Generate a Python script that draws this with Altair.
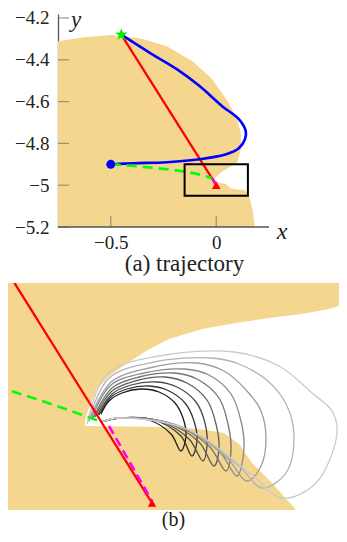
import altair as alt
import pandas as pd

ORANGE = "#F5D68F"
SERIF = "Liberation Serif"

# ---------------- panel (a): trajectory ----------------
# reachable region (orange), as horizontal band: y, left x, right x
region_y = [-4.282, -4.292, -4.297, -4.311, -4.335, -4.407, -4.493, -4.608, -4.684,
            -4.751, -4.828, -4.895, -4.909, -4.938, -4.967, -4.981, -4.990, -4.995,
            -5.014, -5.019, -5.022, -5.038, -5.062, -5.124, -5.163, -5.200]
region_xl = [-0.5, -0.626, -0.66, -0.75, -0.75, -0.75, -0.75, -0.75, -0.75,
             -0.75, -0.75, -0.75, -0.75, -0.75, -0.75, -0.75, -0.75, -0.75,
             -0.75, -0.75, -0.75, -0.75, -0.75, -0.75, -0.75, -0.75]
region_xr = [-0.5, -0.41, -0.36, -0.314, -0.234, -0.112, -0.019, 0.061, 0.098,
             0.117, 0.117, 0.098, 0.070, 0.023, -0.009, -0.005, 0.023, 0.047,
             0.065, 0.089, 0.131, 0.150, 0.159, 0.173, 0.178, 0.182]

blue_x = [-0.45, -0.313, -0.187, -0.079, 0.028, 0.107, 0.140, 0.136, 0.107, 0.047,
          -0.079, -0.234, -0.393, -0.5]
blue_y = [-4.28, -4.368, -4.445, -4.526, -4.622, -4.684, -4.742, -4.780, -4.823,
          -4.852, -4.876, -4.890, -4.895, -4.9]

green_x = [-0.5, -0.3, -0.15, -0.0576, -0.0212]
green_y = [-4.9, -4.917, -4.935, -4.9548, -4.9672]

red_x = [-0.45, 0.0]
red_y = [-4.28, -5.0]

magenta_x = [-0.0172, 0.0]
magenta_y = [-4.9692, -4.9992]

start_x, start_y = [-0.45], [-4.28]
init_x, init_y = [-0.5], [-4.9]
target_x, target_y = [0.0], [-5.0]

box_x = [-0.15, 0.15]
box_y = [-5.05, -4.9]

# axis frame of panel (a)
axis_x0, axis_x1 = -0.75, 0.25
axis_y0, axis_y1 = -5.2, -4.181
x_ticks = [-0.5, 0.0]
y_ticks = [-4.2, -4.4, -4.6, -4.8, -5.0, -5.2]

# ---------------- panel (b): zoom ----------------
white_y = [-4.9204, -4.9224, -4.9244, -4.9260, -4.9280, -4.9304, -4.9344, -4.9392,
           -4.9444, -4.9492, -4.9544, -4.9600, -4.9640, -4.9672, -4.9692, -4.9696,
           -4.9704, -4.9720, -4.9764, -4.9840, -4.9920, -5.0028]
white_xl = [0.0776, 0.0708, 0.0600, 0.0468, 0.0336, 0.0200, 0.0068, -0.0024,
            -0.0104, -0.0172, -0.0220, -0.0244, -0.0260, -0.0268, -0.0268, 0.0048,
            0.0188, 0.0288, 0.0348, 0.0400, 0.0480, 0.0576]
white_xr = [0.0776, 0.0776, 0.0776, 0.0776, 0.0776, 0.0776, 0.0776, 0.0776,
            0.0776, 0.0776, 0.0776, 0.0776, 0.0776, 0.0776, 0.0776, 0.0776,
            0.0776, 0.0776, 0.0776, 0.0776, 0.0776, 0.0776]

curves_x = [
    [-0.0204, -0.0132, -0.0012, 0.0076, 0.0116, 0.0136, 0.0124, 0.0092, 0.0028, -0.0044, -0.0120, -0.0172, -0.0204],
    [-0.0204, -0.0132, 0.0008, 0.0116, 0.0160, 0.0180, 0.0168, 0.0132, 0.0060, -0.0012, -0.0100, -0.0164, -0.0212],
    [-0.0204, -0.0132, 0.0028, 0.0148, 0.0204, 0.0220, 0.0212, 0.0176, 0.0100, 0.0020, -0.0084, -0.0160, -0.0220],
    [-0.0204, -0.0132, 0.0048, 0.0188, 0.0248, 0.0268, 0.0256, 0.0220, 0.0140, 0.0052, -0.0068, -0.0160, -0.0228],
    [-0.0204, -0.0132, 0.0068, 0.0228, 0.0296, 0.0316, 0.0304, 0.0268, 0.0180, 0.0088, -0.0052, -0.0160, -0.0236],
    [-0.0204, -0.0132, 0.0088, 0.0268, 0.0340, 0.0368, 0.0356, 0.0316, 0.0228, 0.0128, -0.0032, -0.0164, -0.0244],
    [-0.0204, -0.0132, 0.0108, 0.0300, 0.0380, 0.0436, 0.0456, 0.0436, 0.0380, 0.0288, 0.0180, -0.0012, -0.0164, -0.0252],
    [-0.0204, -0.0132, 0.0128, 0.0348, 0.0440, 0.0536, 0.0568, 0.0540, 0.0468, 0.0348, 0.0236, 0.0008, -0.0172, -0.0256],
    [-0.0204, -0.0132, 0.0148, 0.0396, 0.0520, 0.0656, 0.0740, 0.0720, 0.0640, 0.0508, 0.0328, 0.0028, -0.0180, -0.0260],
]
curves_y = [
    [-4.9676, -4.9660, -4.9668, -4.9724, -4.9792, -4.9732, -4.9660, -4.9600, -4.9556, -4.9544, -4.9560, -4.9592, -4.9644],
    [-4.9676, -4.9660, -4.9668, -4.9732, -4.9812, -4.9752, -4.9672, -4.9600, -4.9548, -4.9532, -4.9544, -4.9576, -4.9648],
    [-4.9676, -4.9660, -4.9672, -4.9744, -4.9832, -4.9772, -4.9680, -4.9596, -4.9536, -4.9516, -4.9528, -4.9564, -4.9652],
    [-4.9676, -4.9660, -4.9676, -4.9756, -4.9852, -4.9784, -4.9684, -4.9588, -4.9520, -4.9496, -4.9512, -4.9552, -4.9656],
    [-4.9676, -4.9660, -4.9680, -4.9772, -4.9872, -4.9792, -4.9684, -4.9580, -4.9504, -4.9480, -4.9496, -4.9540, -4.9660],
    [-4.9676, -4.9660, -4.9684, -4.9792, -4.9892, -4.9780, -4.9672, -4.9564, -4.9488, -4.9464, -4.9480, -4.9528, -4.9664],
    [-4.9676, -4.9660, -4.9692, -4.9820, -4.9912, -4.9852, -4.9744, -4.9632, -4.9552, -4.9472, -4.9440, -4.9460, -4.9516, -4.9672],
    [-4.9676, -4.9660, -4.9700, -4.9852, -4.9940, -4.9880, -4.9732, -4.9612, -4.9516, -4.9444, -4.9420, -4.9436, -4.9500, -4.9676],
    [-4.9676, -4.9660, -4.9708, -4.9884, -4.9980, -4.9920, -4.9720, -4.9632, -4.9560, -4.9452, -4.9396, -4.9412, -4.9484, -4.9684],
]
gray_levels = ["#1c1c1c", "#333333", "#4a4a4a", "#5e5e5e", "#737373",
               "#888888", "#9e9e9e", "#b4b4b4", "#cbcbcb"]

# ---------------- layout constants ----------------
PX_PER_UNIT = 211
LABEL_ROOM = 50                      # room left of the y axis for its labels
TOP_W, TOP_H = 261, 213
BOT_W, BOT_H = 331, 227
BOT_PX_PER_UNIT = 2500
XDOM_A = [axis_x1 - TOP_W / PX_PER_UNIT, axis_x1]
YDOM_A = [axis_y0, axis_y1]
XDOM_B = [-0.0576, -0.0576 + BOT_W / BOT_PX_PER_UNIT]
YDOM_B = [-5.0028, -5.0028 + BOT_H / BOT_PX_PER_UNIT]

STAR = ("M0,-1L0.235,-0.324L0.951,-0.309L0.38,0.124L0.588,0.809L0,0.4"
        "L-0.588,0.809L-0.38,0.124L-0.951,-0.309L-0.235,-0.324Z")

def frame(xs, ys, **extra):
    d = {"x": xs, "y": ys}
    d.update(extra)
    return pd.DataFrame(d).reset_index().rename(columns={"index": "i"})

label_expr = "replace(format(datum.value, '~g'), '-', '\u2212')"
axis_common = dict(title=None, grid=False, ticks=False, domainColor="#555555",
                   domainWidth=1.3, labelFont=SERIF, labelFontSize=19,
                   labelColor="#222222", labelExpr=label_expr)
ax_x = alt.Axis(values=x_ticks, labelPadding=6, domain=False, **axis_common)
ax_y = alt.Axis(values=y_ticks, labelPadding=9, offset=-LABEL_ROOM, **axis_common)

def XA():
    return alt.X("x:Q", scale=alt.Scale(domain=XDOM_A, nice=False, zero=False), axis=ax_x)

def YA():
    return alt.Y("y:Q", scale=alt.Scale(domain=YDOM_A, nice=False, zero=False), axis=ax_y)

def XB():
    return alt.X("x:Q", scale=alt.Scale(domain=XDOM_B, nice=False, zero=False), axis=None)

def YB():
    return alt.Y("y:Q", scale=alt.Scale(domain=YDOM_B, nice=False, zero=False), axis=None)

region_df = frame(region_xl, region_y, xr=region_xr)
blue_df = frame(blue_x, blue_y)
green_df = frame(green_x, green_y)
red_df = frame(red_x, red_y)
mag_df = frame(magenta_x, magenta_y)
start_df = frame(start_x, start_y)
init_df = frame(init_x, init_y)
target_df = frame(target_x, target_y)
box_df = pd.DataFrame({"x": [box_x[0]], "xr": [box_x[1]], "y": [box_y[0]], "yr": [box_y[1]]})
xt_df = pd.DataFrame({"x": x_ticks, "y": [axis_y0] * len(x_ticks)})
yt_df = pd.DataFrame({"y": y_ticks, "x": [axis_x0] * len(y_ticks)})
xline_df = pd.DataFrame({"x": [axis_x0], "xr": [axis_x1], "y": [axis_y0]})

def common_layers(X, Y, clip):
    red = alt.Chart(red_df).mark_line(color="#FF0000", strokeWidth=2.3, clip=clip).encode(
        x=X(), y=Y(), order="i:Q")
    green = alt.Chart(green_df).mark_line(color="#00FF00", strokeWidth=2.6, strokeDash=[10, 6],
                                          interpolate="monotone", clip=clip).encode(
        x=X(), y=Y(), order="i:Q")
    mag = alt.Chart(mag_df).mark_line(color="#FF00FF", strokeWidth=2.6, strokeDash=[9, 5],
                                      clip=clip).encode(x=X(), y=Y(), order="i:Q")
    tri = alt.Chart(target_df).mark_point(shape="triangle-up", filled=True, color="#FF0000",
                                          size=75, opacity=1, clip=clip).encode(x=X(), y=Y())
    return red, green, mag, tri

# ---- panel (a)
region = alt.Chart(region_df).mark_area(orient="horizontal", color=ORANGE, opacity=1).encode(
    y=YA(), x=XA(), x2="xr:Q")
box = alt.Chart(box_df).mark_rect(fill=None, stroke="black", strokeWidth=2).encode(
    x=XA(), x2="xr:Q", y=YA(), y2="yr:Q")
ytick = alt.Chart(yt_df).mark_tick(orient="horizontal", size=11, thickness=1.2, xOffset=5.5,
                                   color="#777777", opacity=0.75).encode(y=YA(), x=XA())
xtick = alt.Chart(xt_df).mark_tick(orient="vertical", size=11, thickness=1.2, yOffset=-5.5,
                                   color="#777777", opacity=0.75).encode(x=XA(), y=YA())
xline = alt.Chart(xline_df).mark_rule(color="#555555", strokeWidth=1.3).encode(
    x=XA(), x2="xr:Q", y=YA())
red_a, green_a, mag_a, tri_a = common_layers(XA, YA, False)
blue = alt.Chart(blue_df).mark_line(color="#0000FF", strokeWidth=2.6,
                                    interpolate="catmull-rom").encode(x=XA(), y=YA(), order="i:Q")
star = alt.Chart(start_df).mark_point(shape=STAR, filled=True, color="#00EE00", size=170,
                                      opacity=1).encode(x=XA(), y=YA())
dot = alt.Chart(init_df).mark_point(shape="circle", filled=True, color="#0000FF", size=80,
                                    opacity=1).encode(x=XA(), y=YA())
xlab = alt.Chart(pd.DataFrame({"x": [axis_x1], "y": [axis_y0], "t": ["x"]})).mark_text(
    font=SERIF, fontSize=24, fontStyle="italic", color="#222222", dx=13, dy=5,
    baseline="middle", align="center").encode(x=XA(), y=YA(), text="t:N")
ylab = alt.Chart(pd.DataFrame({"x": [axis_x0], "y": [axis_y1], "t": ["y"]})).mark_text(
    font=SERIF, fontSize=23, fontStyle="italic", color="#222222", dx=18, dy=-5,
    baseline="top", align="center").encode(x=XA(), y=YA(), text="t:N")

top = alt.layer(region, ytick, xtick, xline, red_a, blue, green_a, mag_a, box, dot, star,
                tri_a, xlab, ylab).properties(
    width=TOP_W, height=TOP_H,
    title=alt.TitleParams("(a) trajectory", orient="bottom", anchor="middle", font=SERIF,
                          fontSize=23, fontWeight="normal", color="#222222", offset=1, dx=46))

# ---- panel (b)
rows = []
for k, (cx, cy) in enumerate(zip(curves_x, curves_y)):
    for i, (a, b) in enumerate(zip(cx, cy)):
        rows.append({"k": k, "i": i, "x": a, "y": b})
curves_df = pd.DataFrame(rows)
white_df = frame(white_xl, white_y, xr=white_xr)

white = alt.Chart(white_df).mark_area(orient="horizontal", color="white", opacity=1,
                                      clip=True).encode(y=YB(), x=XB(), x2="xr:Q")
grays = alt.Chart(curves_df).mark_line(interpolate="catmull-rom", strokeWidth=1.3,
                                       clip=True).encode(
    x=XB(), y=YB(), detail="k:N", order="i:Q",
    color=alt.Color("k:O", scale=alt.Scale(domain=list(range(9)), range=gray_levels),
                    legend=None))
red_b, green_b, mag_b, tri_b = common_layers(XB, YB, True)

bottom = alt.layer(white, grays, red_b, green_b, mag_b, tri_b).properties(
    width=BOT_W, height=BOT_H,
    view=alt.ViewBackground(fill=ORANGE, strokeWidth=0),
    title=alt.TitleParams("(b)", orient="bottom", anchor="middle", font=SERIF,
                          fontSize=20, fontWeight="normal", color="#222222", offset=0, dx=0))

chart = alt.vconcat(top, bottom, spacing=7).configure_view(strokeWidth=0).properties(padding=0)

chart.save("out.html", embed_options={"renderer": "svg", "actions": False})
